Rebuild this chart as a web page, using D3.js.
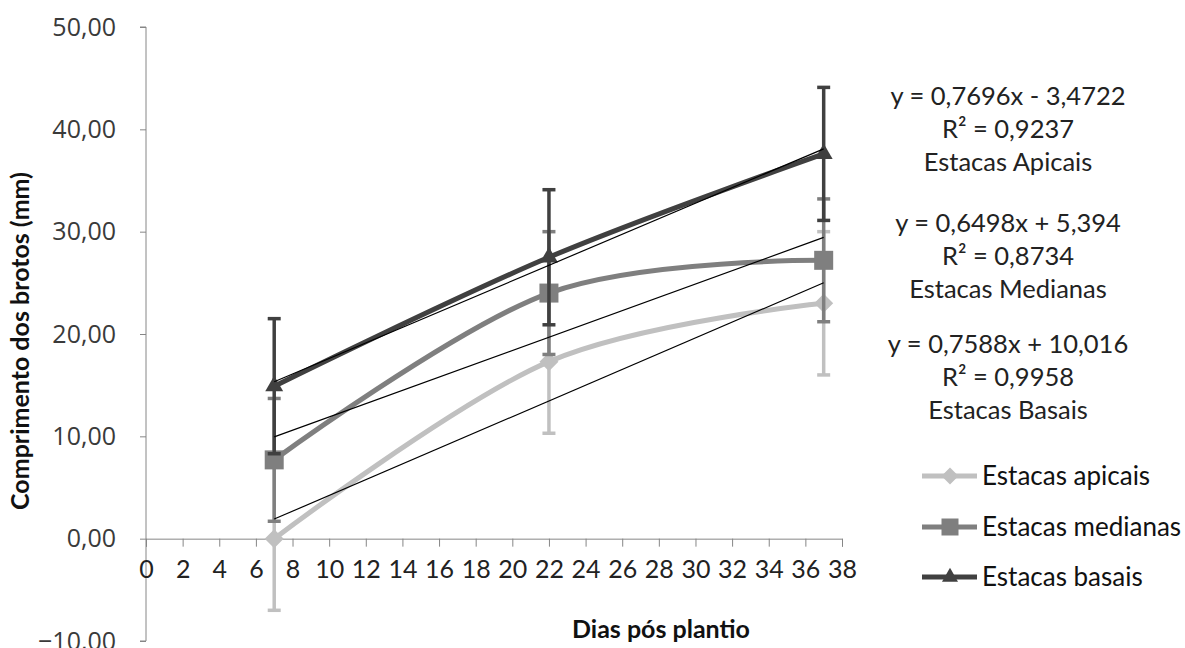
<!DOCTYPE html>
<html><head><meta charset="utf-8">
<script src="https://cdn.jsdelivr.net/npm/d3@7"></script>
<style>body{margin:0;background:#fff}svg{display:block}</style>
</head><body><svg id="chart" width="1185" height="648"></svg>
<script>
// Shoot length (mm) per cutting position, by days after planting
const days = [7, 22, 37];
const apicais = [0.0, 17.3, 23.0];
const medianas = [7.7, 24.0, 27.2];
const basais = [14.9, 27.5, 37.6];
const errApicais = [7.0, 7.0, 7.0];
const errMedianas = [6.0, 6.0, 6.0];
const errBasais = [6.6, 6.6, 6.5];
const seriesNames = ["Estacas apicais", "Estacas medianas", "Estacas basais"];
// Linear trend lines
const trendSlopes = [0.7696, 0.6498, 0.7588];
const trendIntercepts = [-3.4722, 5.394, 10.016];
const trendR2 = [0.9237, 0.8734, 0.9958];
const trendTitles = ["Estacas Apicais", "Estacas Medianas", "Estacas Basais"];
const xTicks = d3.range(0, 39, 2);
const yTicks = [-10, 0, 10, 20, 30, 40, 50];

const svg = d3.select("#chart");
const x = d3.scaleLinear().domain([0, 38]).range([146, 842]);
const y = d3.scaleLinear().domain([-10, 50]).range([641, 27]);
const axisColor = "#868686";
const calibri = "Lato, 'Open Sans', sans-serif";
const colors = ["#c0c0c0", "#7f7f7f", "#404040"];
const symbols = [d3.symbolDiamond2, d3.symbolSquare2, d3.symbolTriangle2];
const symbolSizes = [230, 460, 230];
const comma = v => String(v).replace(".", ",");

const series = [apicais, medianas, basais].map((vals, i) => ({
  name: seriesNames[i],
  color: colors[i],
  symbol: symbols[i],
  size: symbolSizes[i],
  points: days.map((d, j) => ({ x: d, y: vals[j], e: [errApicais, errMedianas, errBasais][i][j] }))
}));

// y axis
const yAxis = svg.append("g").attr("transform", `translate(${x(0)},0)`)
  .call(d3.axisLeft(y).tickValues(yTicks).tickSize(6).tickPadding(24)
    .tickFormat(d => d3.format(".2f")(d).replace(".", ",")));
yAxis.select(".domain").attr("stroke", axisColor).attr("d", `M-6,${y(50)}H0V${y(-10)}H-6`);
yAxis.selectAll(".tick line").attr("stroke", axisColor);
yAxis.selectAll(".tick text").attr("font-family", "'Open Sans', sans-serif")
  .attr("font-size", 25).attr("fill", "#3a3a3a");

// x axis, crossing at y = 0
const xAxis = svg.append("g").attr("transform", `translate(0,${y(0)})`)
  .call(d3.axisBottom(x).tickValues(xTicks).tickSize(8).tickPadding(14).tickSizeOuter(8));
xAxis.select(".domain").attr("stroke", axisColor);
xAxis.selectAll(".tick line").attr("stroke", axisColor);
xAxis.selectAll(".tick text").attr("font-family", calibri)
  .attr("font-size", 25).attr("fill", "#222");

// axis titles
svg.append("text").attr("transform", "translate(29,341) rotate(-90)")
  .attr("text-anchor", "middle").attr("font-family", calibri).attr("font-weight", 700)
  .attr("font-size", 25).attr("fill", "#111").text("Comprimento dos brotos (mm)");
svg.append("text").attr("x", 661).attr("y", 638)
  .attr("text-anchor", "middle").attr("font-family", calibri).attr("font-weight", 700)
  .attr("font-size", 25).attr("fill", "#111").text("Dias pós plantio");

// series: error bars, smoothed line, markers
const line = d3.line().x(d => x(d.x)).y(d => y(d.y)).curve(d3.curveCardinal.tension(0));
series.forEach(s => {
  const g = svg.append("g");
  const eb = g.selectAll("g.err").data(s.points).join("g").attr("stroke", s.color);
  eb.append("line").attr("x1", d => x(d.x)).attr("x2", d => x(d.x))
    .attr("y1", d => y(d.y - d.e)).attr("y2", d => y(d.y + d.e)).attr("stroke-width", 3.5);
  [-1, 1].forEach(sign => {
    eb.append("line").attr("x1", d => x(d.x) - 6.5).attr("x2", d => x(d.x) + 6.5)
      .attr("y1", d => y(d.y + sign * d.e)).attr("y2", d => y(d.y + sign * d.e))
      .attr("stroke-width", 3.5);
  });
  g.append("path").datum(s.points).attr("d", line).attr("fill", "none")
    .attr("stroke", s.color).attr("stroke-width", 5).attr("stroke-linejoin", "round");
  g.selectAll("path.mk").data(s.points).join("path").attr("class", "mk")
    .attr("transform", d => `translate(${x(d.x)},${y(d.y)})`)
    .attr("d", d3.symbol().type(s.symbol).size(s.size)).attr("fill", s.color);
});

// trend lines
trendSlopes.forEach((m, i) => {
  const x0 = d3.min(days), x1 = d3.max(days);
  svg.append("line").attr("x1", x(x0)).attr("y1", y(m * x0 + trendIntercepts[i]))
    .attr("x2", x(x1)).attr("y2", y(m * x1 + trendIntercepts[i]))
    .attr("stroke", "#000").attr("stroke-width", 1.2);
});

// trend equations
const eqCenters = [96, 223, 344];
trendSlopes.forEach((m, i) => {
  const b = trendIntercepts[i];
  const lines = [
    `y = ${comma(m)}x ${b < 0 ? "-" : "+"} ${comma(Math.abs(b))}`,
    `R² = ${comma(trendR2[i])}`,
    trendTitles[i]
  ];
  lines.forEach((t, k) => {
    svg.append("text").attr("x", 1008).attr("y", eqCenters[i] + k * 33)
      .attr("dy", "0.35em").attr("text-anchor", "middle")
      .attr("font-family", calibri).attr("font-size", 25.5).attr("fill", "#222").text(t);
  });
});

// legend
const legendY = [476, 527, 577];
series.forEach((s, i) => {
  const g = svg.append("g").attr("transform", `translate(0,${legendY[i]})`);
  g.append("line").attr("x1", 922).attr("x2", 977).attr("stroke", s.color).attr("stroke-width", 5);
  g.append("path").attr("transform", "translate(950,0)")
    .attr("d", d3.symbol().type(s.symbol).size(s.size * 0.8)).attr("fill", s.color);
  g.append("text").attr("x", 982).attr("dy", "0.35em")
    .attr("font-family", calibri).attr("font-size", 26).attr("fill", "#111").text(s.name);
});
</script></body></html>
